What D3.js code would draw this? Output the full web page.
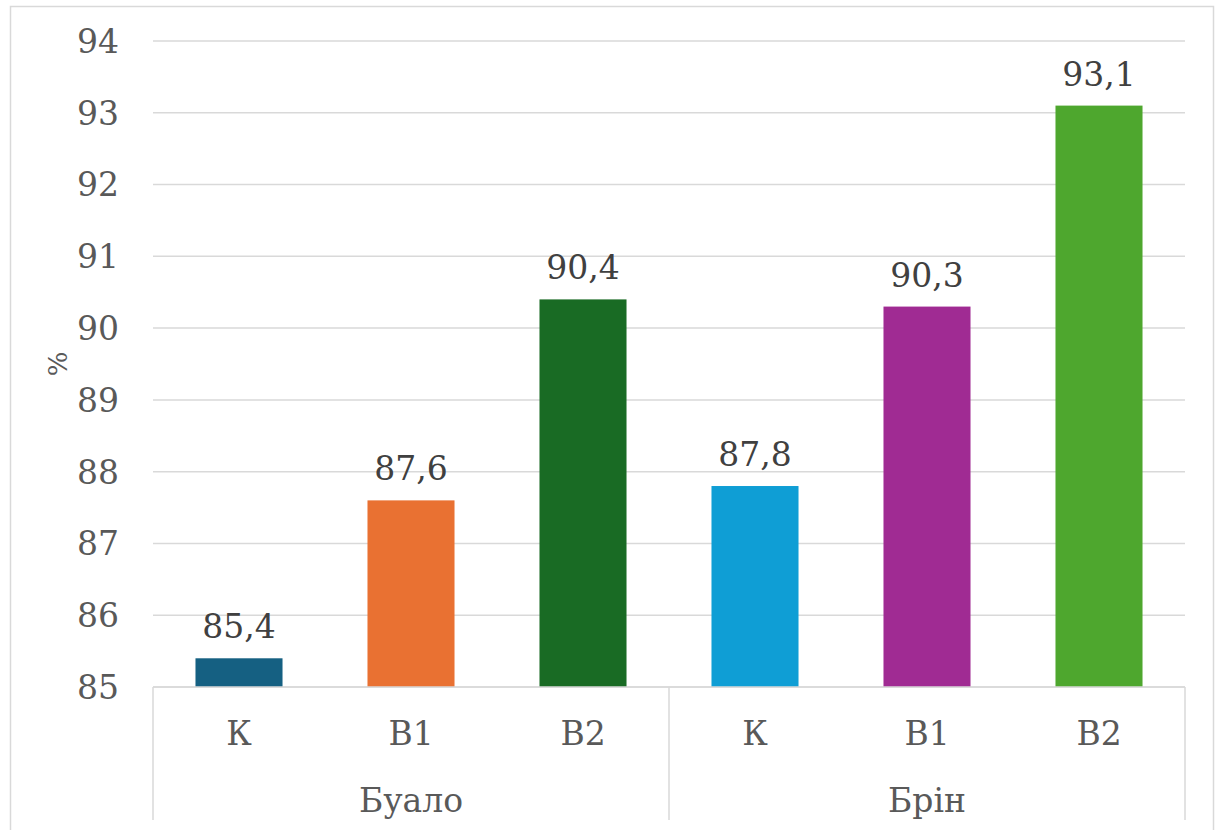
<!DOCTYPE html>
<html>
<head>
<meta charset="utf-8">
<script src="https://cdn.jsdelivr.net/npm/d3@7"></script>
<style>
  body { margin: 0; background: #fff; }
  svg { display: block; }
</style>
</head>
<body>
<svg id="chart"></svg>
<script>
var width = 1216, height = 830;
var margin = {top: 41, left: 153, right: 31, bottom: 143};

// data
var groups = ["Буало", "Брін"];
var categories = ["К", "В1", "В2", "К", "В1", "В2"];
var values = [85.4, 87.6, 90.4, 87.8, 90.3, 93.1];
var colors = ["#156082", "#E97132", "#196B24", "#0F9ED5", "#A02B93", "#4EA72E"];
var yTicks = [85, 86, 87, 88, 89, 90, 91, 92, 93, 94];

var font = "DejaVu Serif";
var fs = "33px";

var svg = d3.select("#chart")
  .attr("width", width)
  .attr("height", height);

// outer border
svg.append("rect")
  .attr("x", 10.5).attr("y", 6.5)
  .attr("width", 1203).attr("height", 840)
  .attr("fill", "none")
  .attr("stroke", "#d9d9d9")
  .attr("stroke-width", 1.5);

var plotBottom = 687;
var x = d3.scaleBand()
  .domain(d3.range(values.length))
  .range([margin.left, width - margin.right])
  .padding(0);

var y = d3.scaleLinear()
  .domain([85, 94])
  .range([plotBottom, margin.top]);

// gridlines
svg.append("g")
  .selectAll("line")
  .data(yTicks)
  .enter().append("line")
  .attr("x1", margin.left)
  .attr("x2", width - margin.right)
  .attr("y1", function (d) { return y(d); })
  .attr("y2", function (d) { return y(d); })
  .attr("stroke", "#d9d9d9")
  .attr("stroke-width", 1.5);

// y tick labels
svg.append("g")
  .selectAll("text")
  .data(yTicks)
  .enter().append("text")
  .attr("x", 119)
  .attr("y", function (d) { return y(d); })
  .attr("dy", "0.36em")
  .attr("text-anchor", "end")
  .style("font-family", font)
  .style("font-size", fs)
  .attr("fill", "#595959")
  .text(function (d) { return d; });

// y axis title
svg.append("text")
  .attr("transform", "translate(67,364) rotate(-90)")
  .attr("text-anchor", "middle")
  .style("font-family", font)
  .style("font-size", "26px")
  .attr("fill", "#595959")
  .text("%");

// bars
var barW = x.bandwidth() * 0.506;
svg.append("g")
  .selectAll("rect")
  .data(values)
  .enter().append("rect")
  .attr("x", function (d, i) { return x(i) + (x.bandwidth() - barW) / 2; })
  .attr("y", function (d) { return y(d); })
  .attr("width", barW)
  .attr("height", function (d) { return y(85) - y(d); })
  .attr("fill", function (d, i) { return colors[i]; });

// data labels
svg.append("g")
  .selectAll("text")
  .data(values)
  .enter().append("text")
  .attr("x", function (d, i) { return x(i) + x.bandwidth() / 2; })
  .attr("y", function (d) { return y(d) - 20; })
  .attr("text-anchor", "middle")
  .style("font-family", font)
  .style("font-size", fs)
  .attr("fill", "#404040")
  .text(function (d) { return String(d).replace(".", ","); });

// category axis
var axisG = svg.append("g")
  .attr("stroke", "#d9d9d9")
  .attr("stroke-width", 1.5);
axisG.append("line")
  .attr("x1", margin.left).attr("x2", width - margin.right)
  .attr("y1", plotBottom).attr("y2", plotBottom);
var dividers = [0, 3, 6];
axisG.selectAll("line.div")
  .data(dividers)
  .enter().append("line")
  .attr("class", "div")
  .attr("x1", function (d) { return d < 6 ? x(d) : x(5) + x.bandwidth(); })
  .attr("x2", function (d) { return d < 6 ? x(d) : x(5) + x.bandwidth(); })
  .attr("y1", plotBottom)
  .attr("y2", 820);

// category labels
svg.append("g")
  .selectAll("text")
  .data(categories)
  .enter().append("text")
  .attr("x", function (d, i) { return x(i) + x.bandwidth() / 2; })
  .attr("y", 745)
  .attr("text-anchor", "middle")
  .style("font-family", font)
  .style("font-size", fs)
  .attr("fill", "#595959")
  .text(function (d) { return d; });

// group labels
svg.append("g")
  .selectAll("text")
  .data(groups)
  .enter().append("text")
  .attr("x", function (d, i) { return (x(i * 3) + x(i * 3 + 2) + x.bandwidth()) / 2; })
  .attr("y", 812)
  .attr("text-anchor", "middle")
  .style("font-family", font)
  .style("font-size", fs)
  .attr("fill", "#595959")
  .text(function (d) { return d; });
</script>
</body>
</html>
